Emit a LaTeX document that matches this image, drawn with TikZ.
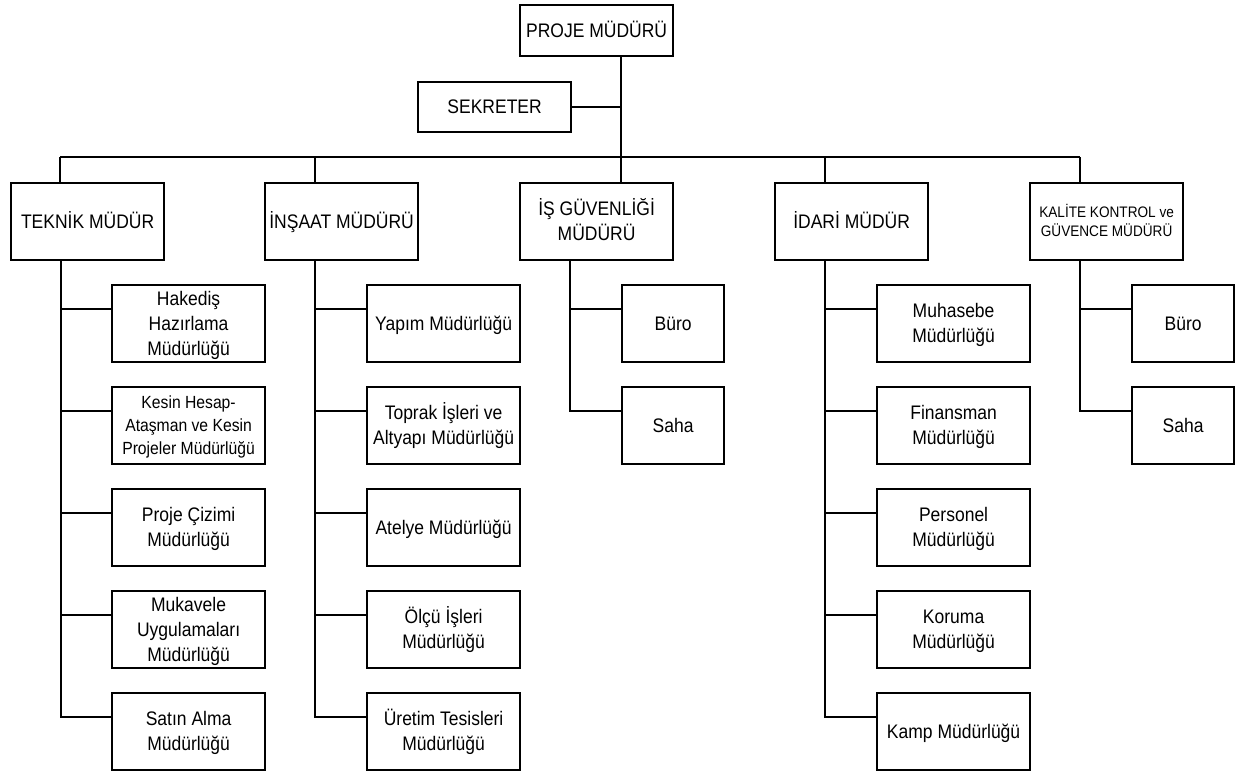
\documentclass[tikz,border=0pt]{standalone}
\usepackage{fontspec}
\usepackage{graphicx}
\setmainfont{Liberation Sans}
\newcommand\vs[1]{\raisebox{0pt}[\height][\dimexpr\depth-3.5pt\relax]{\scalebox{1}[1.12]{\begin{tabular}{@{}c@{}}#1\end{tabular}}}}
\tikzset{
  box/.style={draw=black, line width=2.2pt, rectangle, inner sep=0pt, align=center,
    anchor=north west, minimum width=153pt, minimum height=77pt,
    font=\fontsize{17.5}{22.3}\selectfont},
  smallbox/.style={box, minimum width=102pt},
  headbox/.style={box, minimum height=51pt},
  link/.style={draw=black, line width=2.2pt},
  buslink/.style={draw=black, line width=2.8pt}
}
\begin{document}
\begin{tikzpicture}[x=1pt, y=-1pt]
\useasboundingbox (0,0) rectangle (1245,771);

% top
\node[headbox] (proje) at (519,4) {\vs{PROJE MÜDÜRÜ}};
\node[headbox, minimum height=50pt] (sek) at (417,81) {\vs{SEKRETER}};

% level 1
\node[box] (teknik) at (10,182) {\vs{TEKNİK MÜDÜR}};
\node[box] (insaat) at (264,182) {\vs{İNŞAAT MÜDÜRÜ}};
\node[box] (isg) at (519,182) {\vs{İŞ GÜVENLİĞİ\\MÜDÜRÜ}};
\node[box] (idari) at (774,182) {\vs{İDARİ MÜDÜR}};
\node[box, font=\fontsize{13.6}{17}\selectfont] (kalite) at (1029,182) {\vs{KALİTE KONTROL ve\\GÜVENCE MÜDÜRÜ}};

% teknik children
\node[box] (hak) at (111,284) {\vs{Hakediş\\Hazırlama\\Müdürlüğü}};
\node[box, font=\fontsize{15.7}{20.5}\selectfont] (kes) at (111,386) {\vs{Kesin Hesap-\\Ataşman ve Kesin\\Projeler Müdürlüğü}};
\node[box] (pci) at (111,488) {\vs{Proje Çizimi\\Müdürlüğü}};
\node[box] (muk) at (111,590) {\vs{Mukavele\\Uygulamaları\\Müdürlüğü}};
\node[box] (sat) at (111,692) {\vs{Satın Alma\\Müdürlüğü}};

% insaat children
\node[box] (yap) at (366,284) {\vs{Yapım Müdürlüğü}};
\node[box] (top) at (366,386) {\vs{Toprak İşleri ve\\Altyapı Müdürlüğü}};
\node[box] (ate) at (366,488) {\vs{Atelye Müdürlüğü}};
\node[box] (olc) at (366,590) {\vs{Ölçü İşleri\\Müdürlüğü}};
\node[box] (ure) at (366,692) {\vs{Üretim Tesisleri\\Müdürlüğü}};

% isg children
\node[smallbox] (isgb) at (621,284) {\vs{Büro}};
\node[smallbox] (isgs) at (621,386) {\vs{Saha}};

% idari children
\node[box] (muh) at (876,284) {\vs{Muhasebe\\Müdürlüğü}};
\node[box] (fin) at (876,386) {\vs{Finansman\\Müdürlüğü}};
\node[box] (per) at (876,488) {\vs{Personel\\Müdürlüğü}};
\node[box] (kor) at (876,590) {\vs{Koruma\\Müdürlüğü}};
\node[box] (kmp) at (876,692) {\vs{Kamp Müdürlüğü}};

% kalite children
\node[smallbox] (kalb) at (1131,284) {\vs{Büro}};
\node[smallbox] (kals) at (1131,386) {\vs{Saha}};

% bus
\coordinate (busL) at (60,157);
\coordinate (busR) at (1080,157);
\draw[buslink] (busL) -- (busR);

% proje stem & sekreter
\coordinate (pstem) at ([xshift=102pt]proje.south west);
\draw[link] (pstem) -- (pstem |- busL);
\draw[link] (sek.east) -- (sek.east -| pstem);

% level 1 to bus
\draw[link] ([xshift=50pt]teknik.north west) -- ([xshift=50pt]teknik.north west |- busL);
\draw[link] ([xshift=51pt]insaat.north west) -- ([xshift=51pt]insaat.north west |- busL);
\draw[link] ([xshift=102pt]isg.north west) -- ([xshift=102pt]isg.north west |- busL);
\draw[link] ([xshift=51pt]idari.north west) -- ([xshift=51pt]idari.north west |- busL);
\draw[link] ([xshift=51pt]kalite.north west) -- ([xshift=51pt]kalite.north west |- busL);

% stems
\coordinate (tks) at ([xshift=51pt]teknik.south west);
\coordinate (ins) at ([xshift=51pt]insaat.south west);
\coordinate (iss) at ([xshift=51pt]isg.south west);
\coordinate (ids) at ([xshift=51pt]idari.south west);
\coordinate (kas) at ([xshift=51pt]kalite.south west);

\foreach \c in {hak,kes,pci,muk,sat}
  \draw[link] (tks) |- ([yshift=-25pt]\c.north west);
\foreach \c in {yap,top,ate,olc,ure}
  \draw[link] (ins) |- ([yshift=-25pt]\c.north west);
\foreach \c in {isgb,isgs}
  \draw[link] (iss) |- ([yshift=-25pt]\c.north west);
\foreach \c in {muh,fin,per,kor,kmp}
  \draw[link] (ids) |- ([yshift=-25pt]\c.north west);
\foreach \c in {kalb,kals}
  \draw[link] (kas) |- ([yshift=-25pt]\c.north west);
\end{tikzpicture}
\end{document}
